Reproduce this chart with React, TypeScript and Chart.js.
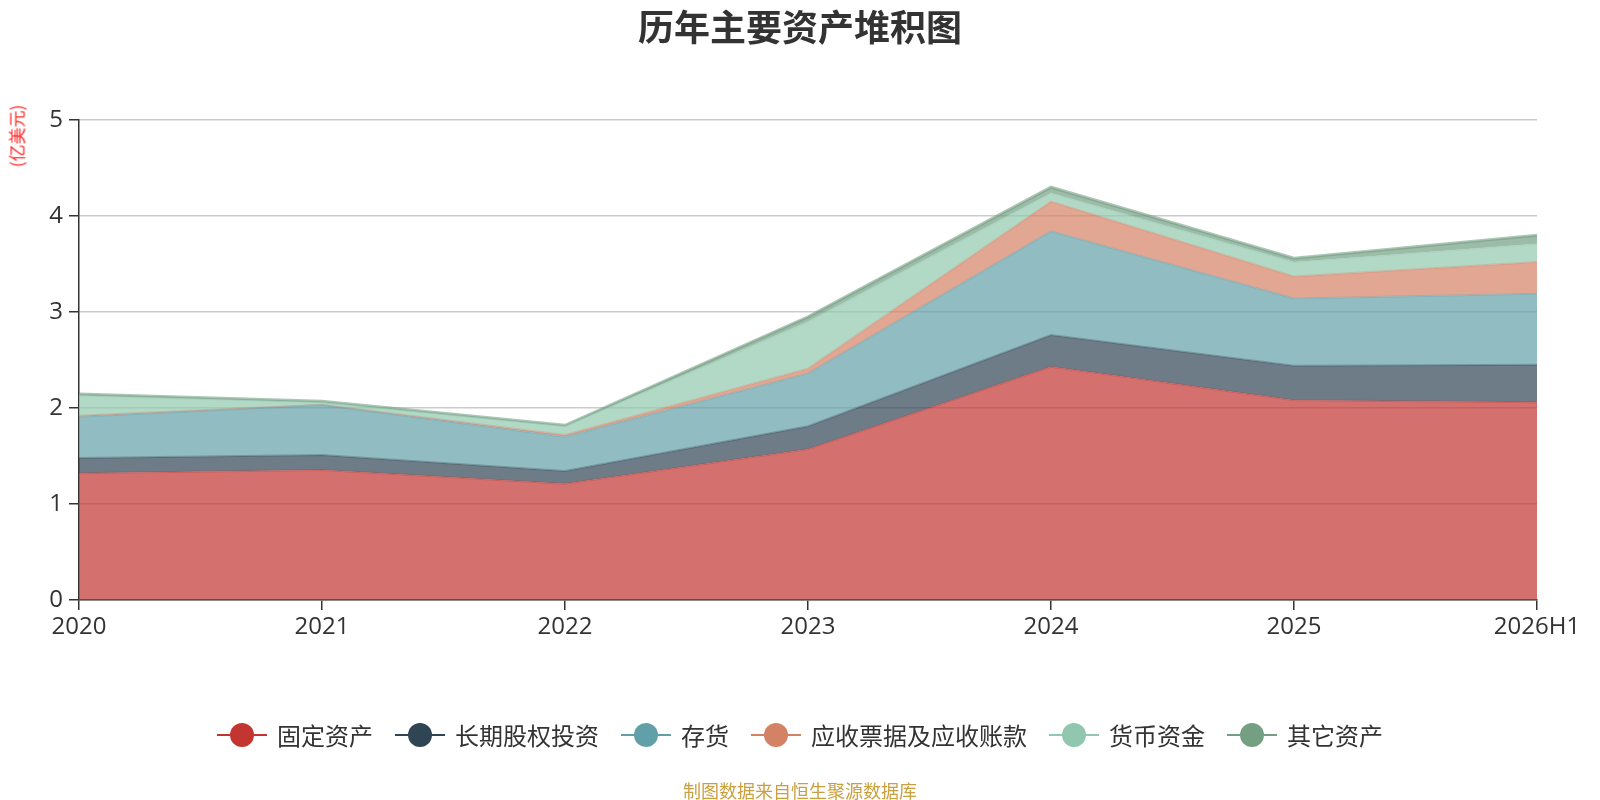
import { useEffect, useRef } from "react"
import { Chart, registerables } from "chart.js"

Chart.register(...registerables)

const years = ["2020", "2021", "2022", "2023", "2024", "2025", "2026H1"]
const fixedAssets = [1.32, 1.355, 1.21, 1.57, 2.43, 2.08, 2.06]
const equityInvest = [0.16, 0.155, 0.135, 0.24, 0.33, 0.36, 0.39]
const inventory = [0.43, 0.52, 0.355, 0.55, 1.08, 0.7, 0.74]
const receivables = [0.01, 0.005, 0.02, 0.05, 0.31, 0.23, 0.33]
const cash = [0.21, 0.025, 0.09, 0.49, 0.09, 0.15, 0.19]
const otherAssets = [0.015, 0.01, 0.01, 0.05, 0.06, 0.04, 0.09]

const seriesNames = ["固定资产", "长期股权投资", "存货", "应收票据及应收账款", "货币资金", "其它资产"]
const seriesColors = ["#c23531", "#2f4554", "#61a0a8", "#d48265", "#91c7ae", "#749f83"]
const seriesValues = [fixedAssets, equityInvest, inventory, receivables, cash, otherAssets]

const FONT = "'Open Sans', 'Noto Sans CJK SC', sans-serif"
const CJK = "'Noto Sans CJK SC', 'Open Sans', sans-serif"

function rgba(hex: string, a: number) {
  const n = parseInt(hex.slice(1), 16)
  return `rgba(${(n >> 16) & 255},${(n >> 8) & 255},${n & 255},${a})`
}

export default function App() {
  const chartRef = useRef<HTMLCanvasElement>(null)
  const chartInstance = useRef<Chart | null>(null)

  useEffect(() => {
    document.body.style.margin = "0"
    if (!chartRef.current) return
    if (chartInstance.current) chartInstance.current.destroy()

    chartInstance.current = new Chart(chartRef.current, {
      type: "line",
      data: {
        labels: years,
        datasets: seriesValues.map((vals, i) => ({
          label: seriesNames[i],
          data: vals,
          // line in the same translucent tone as the area, so it only shows at band edges
          borderColor: rgba(seriesColors[i], i === 5 ? 0.6 : 0.3),
          backgroundColor: rgba(seriesColors[i], 0.7),
          borderWidth: i === 5 ? 3 : 2,
          pointRadius: 0,
          tension: 0,
          fill: i === 0 ? "origin" : "-1",
        })),
      },
      options: {
        animation: false,
        responsive: false,
        layout: { padding: { top: 120, right: 63, left: 0, bottom: 0 } },
        plugins: {
          legend: { display: false },
          title: { display: false },
          tooltip: { enabled: false },
        },
        scales: {
          x: {
            offset: false,
            afterFit: (s) => {
              s.height = 200
            },
            grid: { drawOnChartArea: false, drawTicks: true, tickLength: 10, tickColor: "#333", lineWidth: 1.5 },
            border: { color: "#333", width: 1.5 },
            ticks: { color: "#333", padding: 3, font: { family: FONT, size: 24 }, maxRotation: 0, autoSkip: false },
          },
          y: {
            stacked: true,
            min: 0,
            max: 5,
            afterFit: (s) => {
              s.width = 79
            },
            grid: { color: "#cccccc", lineWidth: 1.5, tickLength: 10, tickColor: "#333" },
            border: { color: "#333", width: 1.5 },
            ticks: { stepSize: 1, color: "#333", padding: 6, font: { family: FONT, size: 24 } },
          },
        },
      },
    })

    return () => {
      if (chartInstance.current) {
        chartInstance.current.destroy()
        chartInstance.current = null
      }
    }
  }, [])

  return (
    <div style={{ position: "relative", width: 1600, height: 800, background: "#fff", overflow: "hidden" }}>
      <canvas ref={chartRef} width={1600} height={800} style={{ position: "absolute", left: 0, top: 0, width: 1600, height: 800 }}></canvas>

      {/* Title */}
      <div style={{ position: "absolute", top: 7, left: 0, width: 1600, textAlign: "center", fontFamily: CJK, fontSize: 36, lineHeight: "36px", fontWeight: "bold", color: "#333" }}>
        历年主要资产堆积图
      </div>

      {/* Unit label */}
      <div style={{ position: "absolute", left: 16, top: 136, transform: "translate(-50%,-50%) rotate(-90deg)", whiteSpace: "nowrap", fontFamily: CJK, fontSize: 17, lineHeight: "17px", color: "#ff2a2a" }}>
        (亿美元)
      </div>

      {/* Legend */}
      <div style={{ position: "absolute", top: 719, left: 0, width: 1600, display: "flex", justifyContent: "center", gap: 22 }}>
        {seriesNames.map((name, i) => (
          <div key={name} style={{ display: "flex", alignItems: "center", height: 32 }}>
            <div style={{ position: "relative", width: 50, height: 24 }}>
              <div style={{ position: "absolute", left: 0, top: 11, width: 50, height: 2, background: seriesColors[i] }}></div>
              <div style={{ position: "absolute", left: 13, top: 0, width: 24, height: 24, borderRadius: 12, background: seriesColors[i] }}></div>
            </div>
            <span style={{ marginLeft: 10, fontFamily: CJK, fontSize: 24, lineHeight: "32px", color: "#333" }}>{name}</span>
          </div>
        ))}
      </div>

      {/* Footer */}
      <div style={{ position: "absolute", top: 779, left: 0, width: 1600, textAlign: "center", fontFamily: CJK, fontSize: 18, lineHeight: "22px", color: "#c9a040" }}>
        制图数据来自恒生聚源数据库
      </div>
    </div>
  )
}
